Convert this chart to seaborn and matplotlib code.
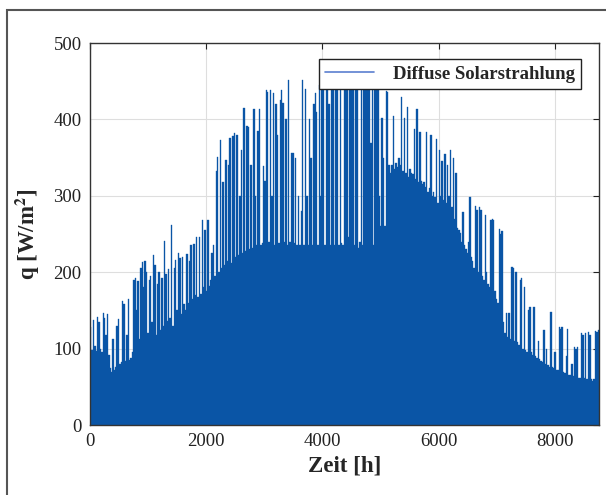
import numpy as np
import pandas as pd
import matplotlib
matplotlib.use("Agg")
import matplotlib.pyplot as plt
import seaborn as sns
from matplotlib.lines import Line2D
from matplotlib.patches import Rectangle

# Daily peak values of diffuse solar radiation [W/m^2] (one per day)
peaks_q1 = [128, 98, 138, 104, 97, 142, 135, 100, 96, 147, 140, 118, 145, 92, 74,
            70, 112, 72, 76, 130, 139, 80, 82, 162, 158, 84, 118, 165, 85, 88,
            96, 190, 193, 150, 188, 112, 205, 214, 180, 215, 200, 120, 190, 195, 135,
            222, 210, 118, 184, 200, 125, 192, 130, 241, 198, 136, 204, 140, 262, 130,
            205, 216, 150, 225, 218, 145, 220, 158, 150, 224, 160, 215, 235, 165, 237,
            170, 246, 168, 246, 172, 268, 180, 255, 176, 268, 182, 190, 225, 235, 195]
peaks_q2 = [333, 351, 200, 373, 205, 318, 210, 347, 215, 340, 376, 212, 378, 382, 220,
            380, 222, 300, 360, 225, 415, 228, 392, 390, 230, 340, 232, 413, 300, 235,
            385, 413, 236, 238, 339, 320, 438, 436, 240, 438, 300, 434, 236, 420, 380,
            238, 425, 438, 421, 240, 400, 236, 451, 240, 356, 356, 238, 350, 236, 300,
            236, 280, 452, 236, 440, 300, 236, 400, 350, 236, 420, 435, 410, 236, 445,
            300, 455, 460, 236, 448, 440, 420, 236, 465, 450, 236, 458, 445, 236, 440]
peaks_q3 = [238, 236, 450, 460, 455, 246, 440, 470, 452, 236, 445, 460, 232, 240, 448,
            236, 455, 440, 462, 450, 458, 369, 445, 236, 440, 455, 448, 300, 260, 402,
            350, 260, 437, 436, 340, 330, 340, 405, 335, 343, 338, 350, 340, 429, 332,
            402, 330, 416, 325, 335, 330, 328, 387, 322, 413, 318, 383, 320, 315, 318,
            312, 383, 305, 310, 380, 300, 305, 298, 375, 290, 360, 300, 345, 295, 355,
            290, 340, 300, 360, 285, 350, 270, 330, 258, 255, 251, 240, 279, 235, 230]
peaks_q4 = [225, 240, 299, 220, 215, 205, 287, 282, 200, 285, 281, 195, 190, 275, 200,
            185, 180, 268, 270, 268, 175, 165, 160, 256, 250, 254, 135, 120, 146, 115,
            146, 112, 207, 205, 110, 200, 108, 105, 190, 192, 100, 181, 98, 96, 150,
            154, 95, 92, 154, 90, 88, 110, 86, 84, 82, 124, 80, 100, 78, 76,
            148, 76, 74, 95, 72, 72, 128, 126, 128, 70, 68, 90, 126, 66, 66,
            80, 64, 102, 100, 102, 62, 62, 120, 118, 62, 120, 60, 122, 118, 60,
            58, 60, 123, 122, 125]

xticks = [0, 2000, 4000, 6000, 8000]
yticks = [0, 100, 200, 300, 400, 500]
legend_label = "Diffuse Solarstrahlung"

peaks = peaks_q1 + peaks_q2 + peaks_q3 + peaks_q4
n_days = len(peaks)
day_mid_hour = np.arange(n_days) * 24 + 12
df = pd.DataFrame({"zeit": day_mid_hour, "q": peaks})

sns.set_style("whitegrid")
plt.rcParams["font.family"] = ["Liberation Serif", "DejaVu Serif"]
plt.rcParams["mathtext.fontset"] = "stix"

fig = plt.figure(figsize=(6.06, 4.95), dpi=100)
ax = fig.add_axes([90 / 606, 1 - 425 / 495, 509 / 606, 382 / 495])

bar_color = "#0a55a6"
sns.histplot(data=df, x="zeit", weights="q", binwidth=24, binrange=(0, n_days * 24),
             element="bars", fill=True, color=bar_color, alpha=1,
             edgecolor=bar_color, linewidth=0.25, ax=ax, legend=False)

ax.set_xlim(0, 8760)
ax.set_ylim(0, 500)
ax.set_xticks(xticks)
ax.set_yticks(yticks)
ax.tick_params(axis="both", labelsize=13.5, direction="in", length=4,
               top=True, right=True, colors="#222222", pad=6)
ax.grid(True, color="#dedede", linewidth=0.8)
ax.set_axisbelow(True)
for s in ax.spines.values():
    s.set_color("#333333")
    s.set_linewidth(1.0)

ax.set_xlabel("Zeit [h]", fontsize=16.5, fontweight="bold", labelpad=4)
ax.set_ylabel("q [W/m$^{\\mathbf{2}}$]", fontsize=16.5, fontweight="bold", labelpad=8)

handle = Line2D([0], [0], color="#5b7fd0", linewidth=1.2)
leg = ax.legend([handle], [legend_label], loc="upper right",
                bbox_to_anchor=(0.965, 0.958), borderaxespad=0,
                prop={"size": 13.5, "weight": "bold"}, frameon=True, fancybox=False,
                handlelength=2.6, borderpad=0.35, handletextpad=1.0)
leg.get_frame().set_edgecolor("#222222")
leg.get_frame().set_linewidth(1.0)
leg.get_frame().set_alpha(1)

fig.add_artist(Rectangle((7 / 606, -0.2), 1.2, 1.2 - 10 / 495,
                         transform=fig.transFigure, fill=False,
                         edgecolor="#555555", linewidth=1.5))

fig.savefig("out.png", dpi=100)
